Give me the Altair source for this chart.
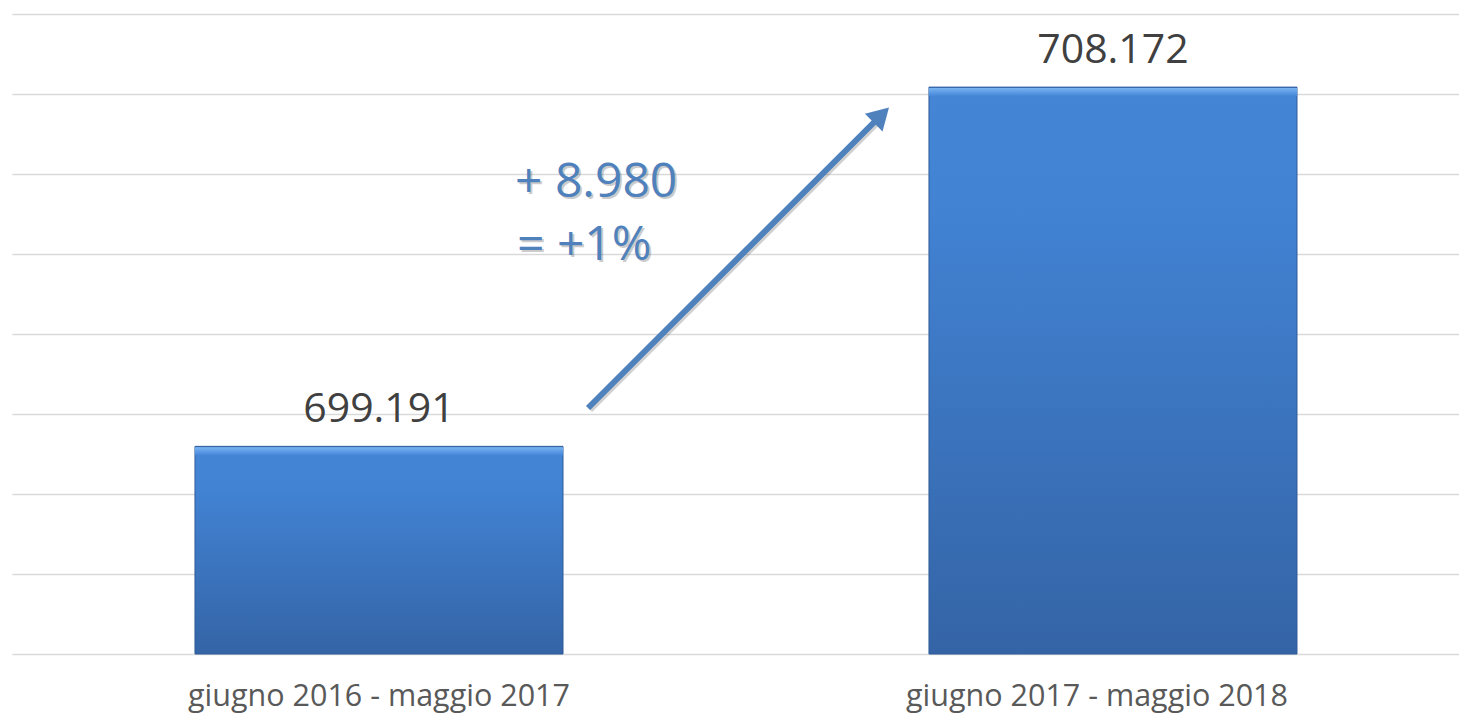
import altair as alt
import pandas as pd

# ---- data ----
categories = ["giugno 2016 - maggio 2017", "giugno 2017 - maggio 2018"]
values = [699191, 708172]
value_labels = ["699.191", "708.172"]

y_min, y_max, y_step = 694000, 710000, 2000
y_ticks = list(range(y_min, y_max + 1, y_step))

annotation_lines = ["+ 8.980", "= +1%"]
annotation_fx = [0.3476, 0.3490]          # fraction of plot width
annotation_y = [705425, 703850]           # in value units

arrow_fx = [0.3981, 0.6008]
arrow_y = [700150, 707475]

# ---- tables ----
bars_df = pd.DataFrame({"categoria": categories, "valore": values, "etichetta": value_labels})
ann_df = pd.DataFrame({"testo": annotation_lines, "fx": annotation_fx, "vy": annotation_y})
arrow_df = pd.DataFrame({"fx": arrow_fx, "vy": arrow_y, "ordine": [0, 1]})
head_df = arrow_df.iloc[[1]]

FONT = "Open Sans"
BLUE = "#4F81BD"

y_scale = alt.Scale(domain=[y_min, y_max], zero=False, nice=False)
y_axis = alt.Axis(
    values=y_ticks, labels=False, ticks=False, domain=False, title=None,
    grid=True, gridColor="#d9d9d9", gridWidth=1.6,
)

x_band = alt.X(
    "categoria:N",
    sort=categories,
    scale=alt.Scale(paddingInner=0.4986, paddingOuter=0.2350, align=0.5304),
    axis=alt.Axis(
        title=None, labelAngle=0, labelFont=FONT, labelFontSize=30.5,
        labelColor="#595959", labelPadding=51, labelBaseline="alphabetic",
        labelOffset=alt.ExprRef(expr=f"datum.value == '{categories[1]}' ? -16 : 0"),
        ticks=False, tickSize=0, domain=False, grid=False, labelLimit=0,
    ),
)

bars = alt.Chart(bars_df).mark_bar(
    color=alt.Gradient(
        gradient="linear",
        stops=[
            alt.GradientStop(color="#4485d6", offset=0),
            alt.GradientStop(color="#4283d4", offset=0.2),
            alt.GradientStop(color="#3464a6", offset=1),
        ],
        x1=0, x2=0, y1=0, y2=1,
    ),
    stroke="#2f5b98",
    strokeWidth=1,
).encode(
    x=x_band,
    y=alt.Y("valore:Q", scale=y_scale, axis=y_axis),
    y2=alt.datum(y_min),
)

bevel = alt.Chart(bars_df).mark_bar(
    color=alt.Gradient(
        gradient="linear",
        stops=[
            alt.GradientStop(color="#7ab3f0", offset=0),
            alt.GradientStop(color="#5e9ce6", offset=0.5),
            alt.GradientStop(color="#4586d7", offset=1),
        ],
        x1=0, x2=0, y1=0, y2=1,
    ),
    y2Offset=9,
    yOffset=1,
).encode(
    x=alt.X("categoria:N", sort=categories),
    y=alt.Y("valore:Q", scale=y_scale, axis=y_axis),
    y2=alt.Y2("valore:Q"),
)

labels = alt.Chart(bars_df).mark_text(
    font=FONT, fontSize=41, color="#404040", baseline="alphabetic", dy=-24
).encode(
    x=alt.X("categoria:N", sort=categories),
    y=alt.Y("valore:Q", scale=y_scale, axis=y_axis),
    text="etichetta:N",
)

base = alt.layer(bars, bevel, labels)

fx_scale = alt.Scale(domain=[0, 1], nice=False, zero=False)
fx_enc = alt.X("fx:Q", scale=fx_scale, axis=None)
vy_enc = alt.Y("vy:Q", scale=y_scale, axis=y_axis)

arrow_shadow = alt.Chart(arrow_df).mark_line(
    color="#000000", opacity=0.18, strokeWidth=6, strokeCap="butt", xOffset=2, yOffset=2
).encode(x=fx_enc, y=vy_enc, order="ordine:Q")

arrow_line = alt.Chart(arrow_df).mark_line(
    color=BLUE, strokeWidth=6, strokeCap="butt"
).encode(x=fx_enc, y=vy_enc, order="ordine:Q")

arrow_head = alt.Chart(head_df).mark_point(
    shape="triangle-up", filled=True, color=BLUE, opacity=1, size=620, angle=45
).encode(x=fx_enc, y=vy_enc)

ann_shadow = alt.Chart(ann_df).mark_text(
    font=FONT, fontSize=48, color="#000000", opacity=0.2, align="left",
    baseline="alphabetic", dx=2, dy=2
).encode(x=fx_enc, y=vy_enc, text="testo:N")

ann_text = alt.Chart(ann_df).mark_text(
    font=FONT, fontSize=48, color=BLUE, align="left", baseline="alphabetic"
).encode(x=fx_enc, y=vy_enc, text="testo:N")

annot = alt.layer(arrow_shadow, arrow_line, arrow_head, ann_shadow, ann_text)

chart = (
    alt.layer(base, annot)
    .resolve_scale(x="independent")
    .resolve_axis(x="independent")
    .properties(
        width=1447,
        height=640,
        autosize=alt.AutoSizeParams(type="none"),
        padding={"left": 4, "top": 6, "right": 0, "bottom": 59},
        background="white",
    )
    .configure_view(stroke=None)
)

chart.save("out.html", embed_options={"renderer": "svg", "actions": False})
